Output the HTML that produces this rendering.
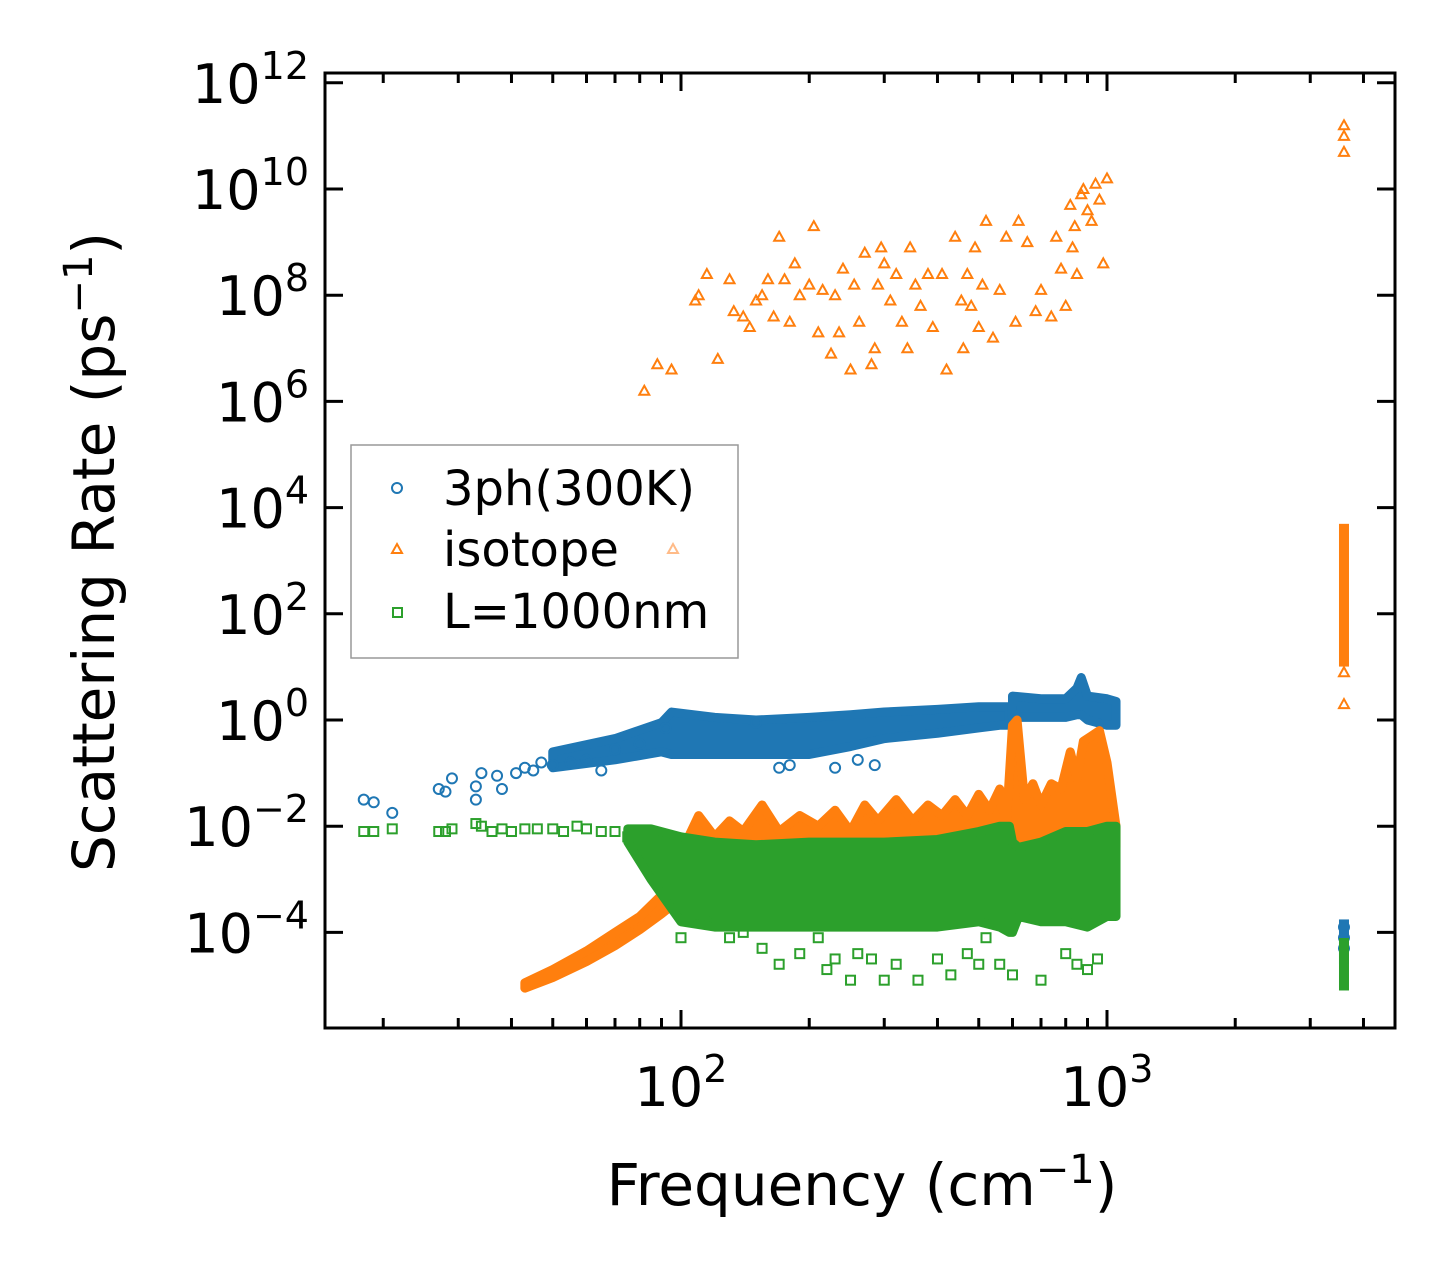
<!DOCTYPE html>
<html><head><meta charset="utf-8"><style>
html,body{margin:0;padding:0;background:#fff;}
svg text{font-family:"DejaVu Sans","Liberation Sans",sans-serif;fill:#000;}
</style></head><body>
<svg id="chart" width="1455" height="1279" viewBox="0 0 1455 1279" xmlns="http://www.w3.org/2000/svg">
<g id="marks"></g>
<g id="axes"></g>
<g>
<rect x="351" y="445" width="387" height="213" fill="#fff" stroke="#999" stroke-width="1.5"/>
<circle cx="397" cy="488" r="5" fill="none" stroke="#1f77b4" stroke-width="2"/>
<text x="443" y="505" font-size="48">3ph(300K)</text>
<polygon points="397,544 402,553 392,553" fill="none" stroke="#ff7f0e" stroke-width="2"/>
<polygon points="673,544 678,553 668,553" fill="none" stroke="#ffbb88" stroke-width="2"/>
<text x="443" y="566" font-size="48">isotope</text>
<rect x="393" y="608" width="9" height="9" fill="none" stroke="#2ca02c" stroke-width="2"/>
<text x="443" y="628" font-size="48">L=1000nm</text>
</g>
<text transform="translate(114,552) rotate(-90)" text-anchor="middle" font-size="58">Scattering Rate (ps<tspan font-size="40" dy="-22">−1</tspan><tspan dy="22">)</tspan></text>
<text x="862" y="1205" text-anchor="middle" font-size="58">Frequency (cm<tspan font-size="40" dy="-22">−1</tspan><tspan dy="22">)</tspan></text>
</svg>
<script>
// ---- data (frequency in cm^-1, rate as log10 value) ----
const blueF=[18,19,21,27,28,29,33,33,34,37,38,41,43,45,47,50,55,60,65,70,80,92,150,170,180,230,260,285,3600,3600,3600];
const blueV=[-1.5,-1.55,-1.75,-1.3,-1.35,-1.1,-1.5,-1.25,-1.0,-1.05,-1.3,-1.0,-0.9,-0.95,-0.8,-0.85,-0.8,-0.75,-0.95,-0.55,-0.45,-0.15,-0.05,-0.9,-0.85,-0.9,-0.75,-0.85,-3.9,-4.1,-4.3];
const blueBandF=[50,70,90,95,120,150,200,250,300,400,500,560,590];
const blueBandLo=[-0.9,-0.75,-0.6,-0.65,-0.65,-0.65,-0.65,-0.5,-0.35,-0.25,-0.15,-0.1,-0.1];
const blueBandHi=[-0.6,-0.35,-0.05,0.15,0.05,0.0,0.05,0.1,0.15,0.2,0.25,0.25,0.25];
const blueBand2F=[600,700,800,850,870,900,1000,1050];
const blueBand2Lo=[0.05,0.05,0.05,0.1,0.1,0.0,-0.1,-0.1];
const blueBand2Hi=[0.45,0.4,0.4,0.6,0.8,0.45,0.4,0.35];
const blueBarF=[3600];const blueBarLo=[-4.5];const blueBarHi=[-3.85];

const isoF=[82,88,95,108,110,115,122,130,133,140,145,150,155,160,165,170,175,180,185,190,200,205,210,215,225,230,235,240,250,255,262,270,280,285,290,295,300,310,320,330,340,345,355,365,380,390,410,420,440,455,460,470,480,490,500,510,520,540,560,580,610,620,650,680,700,740,760,780,800,820,830,840,850,870,880,900,920,940,960,980,1000,3600,3600,3600,3600,3600];
const isoV=[6.2,6.7,6.6,7.9,8.0,8.4,6.8,8.3,7.7,7.6,7.4,7.9,8.0,8.3,7.6,9.1,8.3,7.5,8.6,8.0,8.2,9.3,7.3,8.1,6.9,8.0,7.3,8.5,6.6,8.2,7.5,8.8,6.7,7.0,8.2,8.9,8.6,7.9,8.4,7.5,7.0,8.9,8.2,7.8,8.4,7.4,8.4,6.6,9.1,7.9,7.0,8.4,7.8,8.9,7.4,8.2,9.4,7.2,8.1,9.1,7.5,9.4,9.0,7.7,8.1,7.6,9.1,8.5,7.8,9.7,8.9,9.3,8.4,9.9,10.0,9.6,9.4,10.1,9.8,8.6,10.2,11.2,11.0,10.7,0.9,0.3];
const isoBarF=[3600];const isoBarLo=[1.1];const isoBarHi=[3.6];
const isoRampF=[43,50,60,70,80,90,95,100];
const isoRampLo=[-5.05,-4.85,-4.55,-4.25,-3.95,-3.65,-3.5,-3.3];
const isoRampHi=[-4.95,-4.7,-4.35,-4.0,-3.7,-3.3,-3.0,-2.7];
const isoBandF=[100,110,120,130,140,155,170,190,210,230,250,270,290,320,350,380,410,440,470,500,530,560,580,600,615,640,670,700,740,780,820,850,880,920,960,1000,1050];
const isoBandHi=[-2.5,-1.8,-2.2,-1.9,-2.1,-1.6,-2.1,-1.8,-2.0,-1.7,-2.1,-1.6,-1.9,-1.5,-1.9,-1.6,-1.8,-1.5,-1.8,-1.4,-1.7,-1.3,-2.0,-0.1,0.0,-1.5,-1.2,-1.6,-1.2,-1.3,-0.6,-1.1,-0.4,-0.3,-0.2,-0.8,-2.0];
const isoBandLo=[-3.2,-2.9,-2.6,-2.5,-2.5,-2.5,-2.5,-2.5,-2.5,-2.5,-2.5,-2.5,-2.5,-2.5,-2.5,-2.5,-2.5,-2.5,-2.5,-2.4,-2.4,-2.4,-2.5,-2.3,-2.4,-2.4,-2.4,-2.4,-2.4,-2.4,-2.3,-2.4,-2.3,-2.3,-2.3,-2.4,-2.4];

const grnF=[18,19,21,27,28,29,33,34,36,38,40,43,46,50,53,57,60,65,70,75,80,100,110,120,130,140,155,170,190,210,220,230,250,260,280,300,320,360,400,430,470,500,520,560,600,700,800,850,900,950];
const grnV=[-2.1,-2.1,-2.05,-2.1,-2.1,-2.05,-1.95,-2.0,-2.1,-2.05,-2.1,-2.05,-2.05,-2.05,-2.1,-2.0,-2.05,-2.1,-2.1,-2.2,-2.1,-4.1,-3.7,-3.8,-4.1,-4.0,-4.3,-4.6,-4.4,-4.1,-4.7,-4.5,-4.9,-4.4,-4.5,-4.9,-4.6,-4.9,-4.5,-4.8,-4.4,-4.6,-4.1,-4.6,-4.8,-4.9,-4.4,-4.6,-4.7,-4.5];
const grnBandF=[75,85,100,120,150,200,300,400,500,560,590,600,620,700,800,900,1000,1050];
const grnBandLo=[-2.3,-3.0,-3.8,-3.9,-3.9,-3.9,-3.9,-3.9,-3.8,-3.9,-4.0,-4.0,-3.7,-3.8,-3.8,-3.9,-3.7,-3.7];
const grnBandHi=[-2.05,-2.05,-2.2,-2.3,-2.35,-2.3,-2.3,-2.25,-2.1,-2.0,-2.0,-2.3,-2.4,-2.3,-2.1,-2.1,-2.0,-2.0];
const grnBarF=[3600];const grnBarLo=[-5.0];const grnBarHi=[-4.2];

const yTickExp=[12,10,8,6,4,2,0,-2,-4];
const xTickExp=[2,3];
// ---- axes ----
const X0=325,X1=1395,Y0=73,Y1=1028;
function X(f){return 681+426*(Math.log10(f)-2);}
function Y(l){return 720-53.1*l;}
const NS='http://www.w3.org/2000/svg';
const marks=document.getElementById('marks'),axes=document.getElementById('axes');
function mk(tag,attrs,parent){const e=document.createElementNS(NS,tag);for(const k in attrs)e.setAttribute(k,attrs[k]);parent.appendChild(e);return e;}
const clip=mk('clipPath',{id:'pc'},marks);mk('rect',{x:X0,y:Y0,width:X1-X0,height:Y1-Y0},clip);
const gm=mk('g',{'clip-path':'url(#pc)'},marks);
function band(F,lo,hi,col,name){
  let pts=[];for(let i=0;i<F.length;i++)pts.push(X(F[i])+','+Y(hi[i]));
  for(let i=F.length-1;i>=0;i--)pts.push(X(F[i])+','+Y(lo[i]));
  const p=mk('polygon',{points:pts.join(' '),fill:col,stroke:col,'stroke-width':9,'stroke-linejoin':'round'},gm);
  
  
}
function bar(F,lo,hi,col,name){
  const p=mk('rect',{x:X(F[0])-5,y:Y(hi[0])-5,width:10,height:Y(lo[0])-Y(hi[0])+10,fill:col},gm);
  
  
}
function circ(F,V,col,name){for(let i=0;i<F.length;i++){const e=mk('circle',{cx:X(F[i]),cy:Y(V[i]),r:5,fill:'none',stroke:col,'stroke-width':2},gm);
  
  }}
function tri(F,V,col,name){for(let i=0;i<F.length;i++){const x=X(F[i]),y=Y(V[i]);const e=mk('polygon',{points:`${x},${y-5} ${x+5},${y+4} ${x-5},${y+4}`,fill:'none',stroke:col,'stroke-width':2},gm);
  
  }}
function sq(F,V,col,name){for(let i=0;i<F.length;i++){const e=mk('rect',{x:X(F[i])-4.5,y:Y(V[i])-4.5,width:9,height:9,fill:'none',stroke:col,'stroke-width':2},gm);
  
  }}
const B='#1f77b4',O='#ff7f0e',G='#2ca02c';
band(blueBandF,blueBandLo,blueBandHi,B,'3ph-dense-band');
band(blueBand2F,blueBand2Lo,blueBand2Hi,B,'3ph-dense-band-high');
circ(blueF,blueV,B,'3ph-point');
bar(blueBarF,blueBarLo,blueBarHi,B,'3ph-high-freq-bar');
band(isoRampF,isoRampLo,isoRampHi,O,'isotope-ramp-band');
band(isoBandF,isoBandLo,isoBandHi,O,'isotope-dense-band');
tri(isoF,isoV,O,'isotope-point');
bar(isoBarF,isoBarLo,isoBarHi,O,'isotope-high-freq-bar');
band(grnBandF,grnBandLo,grnBandHi,G,'boundary-dense-band');
sq(grnF,grnV,G,'boundary-point');
bar(grnBarF,grnBarLo,grnBarHi,G,'boundary-high-freq-bar');
// frame
const fr=mk('rect',{x:X0,y:Y0,width:X1-X0,height:Y1-Y0,fill:'none',stroke:'#000','stroke-width':3},axes);


// y ticks
for(const e of yTickExp){const y=Y(e);
  mk('line',{x1:X0,x2:X0+18,y1:y,y2:y,stroke:'#000','stroke-width':3},axes);
  mk('line',{x1:X1,x2:X1-18,y1:y,y2:y,stroke:'#000','stroke-width':3},axes);
  const t=mk('text',{x:X0-16,y:y+20,'text-anchor':'end','font-size':54},axes);
  
  
  t.innerHTML='10<tspan font-size="38" dy="-24">'+(e<0?'−'+(-e):e)+'</tspan>';
}
// x ticks
for(let d=1;d<=3;d++)for(let m=1;m<10;m++){const f=m*Math.pow(10,d);const x=X(f);if(x<X0||x>X1)continue;
  const L=m===1?18:10;
  mk('line',{x1:x,x2:x,y1:Y1,y2:Y1-L,stroke:'#000','stroke-width':3},axes);
  mk('line',{x1:x,x2:x,y1:Y0,y2:Y0+L,stroke:'#000','stroke-width':3},axes);
}
for(const e of xTickExp){const x=X(Math.pow(10,e));
  const t=mk('text',{x:x,y:1106,'text-anchor':'middle','font-size':54},axes);
  
  
  t.innerHTML='10<tspan font-size="38" dy="-24">'+e+'</tspan>';
}
</script>
</body></html>
